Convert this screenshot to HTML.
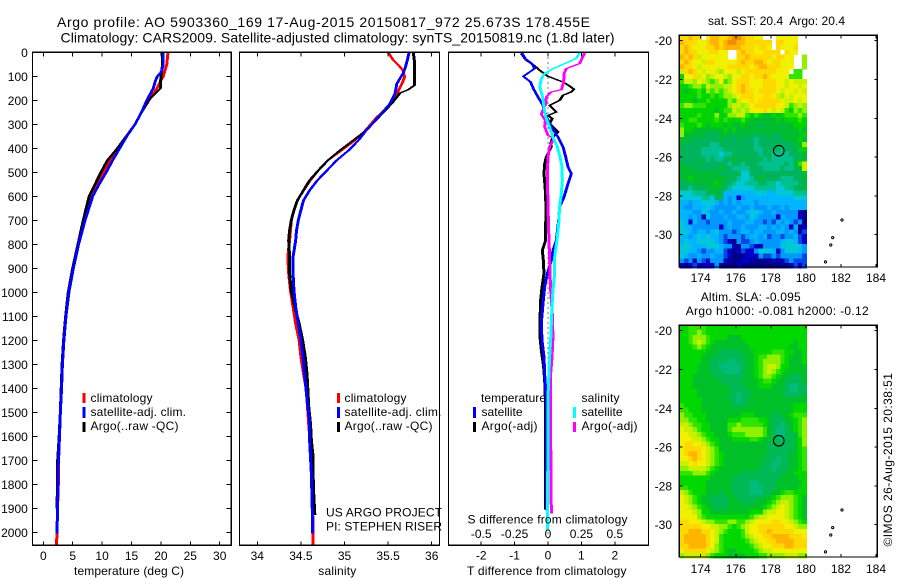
<!DOCTYPE html>
<html>
<head>
<meta charset="utf-8">
<title>Argo profile</title>
<style>
html,body{margin:0;padding:0;background:#fff}
svg{display:block}
text{font-family:"Liberation Sans",sans-serif;font-size:12px;fill:#000}
.ttl{font-size:14px}
</style>
</head>
<body>
<svg id="fig" xmlns="http://www.w3.org/2000/svg" width="900" height="580" viewBox="0 0 900 580">
<rect x="0" y="0" width="900" height="580" fill="#fff"/>
<text class="ttl" x="57" y="27" textLength="533">Argo profile: AO 5903360_169 17-Aug-2015 20150817_972 25.673S 178.455E</text>
<text class="ttl" x="60.5" y="42.5" textLength="554">Climatology: CARS2009. Satellite-adjusted climatology: synTS_20150819.nc (1.8d later)</text>
<g id="plots"></g>

<g>
<rect x="82.5" y="393" width="3" height="10" fill="#f00"/>
<rect x="82.5" y="407" width="3" height="11" fill="#00f"/>
<rect x="82.5" y="422" width="3" height="10" fill="#000"/>
<text x="90.5" y="402" textLength="62">climatology</text>
<text x="90.5" y="416" textLength="95.5">satellite-adj. clim.</text>
<text x="90.5" y="430" textLength="88">Argo(..raw -QC)</text>
</g>
<g>
<rect x="337" y="393" width="3" height="10" fill="#f00"/>
<rect x="337" y="407" width="3" height="11" fill="#00f"/>
<rect x="337" y="422" width="3" height="10" fill="#000"/>
<text x="344.5" y="402" textLength="62">climatology</text>
<text x="344.5" y="416" textLength="97">satellite-adj. clim.</text>
<text x="344.5" y="430" textLength="88">Argo(..raw -QC)</text>
<text x="326" y="516.5" textLength="116">US ARGO PROJECT</text>
<text x="326" y="530.5" textLength="116">PI: STEPHEN RISER</text>
</g>
<g>
<text x="481" y="402" textLength="65">temperature</text>
<rect x="473" y="407" width="3" height="11" fill="#00f"/>
<rect x="473" y="422" width="3" height="10" fill="#000"/>
<text x="481.5" y="416" textLength="41">satellite</text>
<text x="481.5" y="430" textLength="56">Argo(-adj)</text>
<text x="581.5" y="402" textLength="38">salinity</text>
<rect x="573" y="407" width="3" height="11" fill="#0ff"/>
<rect x="573" y="422" width="3" height="10" fill="#f0f"/>
<text x="581.5" y="416" textLength="41">satellite</text>
<text x="581.5" y="430" textLength="56">Argo(-adj)</text>
</g>

<text x="74" y="575" textLength="110">temperature (deg C)</text>
<text x="318.3" y="575" textLength="38">salinity</text>
<text x="467.5" y="523.5" textLength="160">S difference from climatology</text>
<text x="467" y="575" textLength="159.5">T difference from climatology</text>

<text x="708" y="25" textLength="137" xml:space="preserve">sat. SST: 20.4  Argo: 20.4</text>
<text x="700.7" y="301" textLength="100">Altim. SLA: -0.095</text>
<text x="685.7" y="315" textLength="183">Argo h1000: -0.081 h2000: -0.12</text>
<text transform="translate(892,546.5) rotate(-90)" x="0" y="0" textLength="173.5">©IMOS 26-Aug-2015 20:38:51</text>
</svg>

<script>
// ---------- temperature profile values (deg C) by depth (m) ----------
const tempClimDepth=[0,50,100,150,200,250,300,350,400,450,500,550,600,700,800,900,1000,1100,1200,1300,1400,1500,1600,1700,1800,1900,2000,2050];
const tempClimVal=[21.2,21.0,20.4,19.3,18.0,16.7,15.6,14.1,12.8,11.3,10.2,9.1,8.1,6.9,5.9,5.05,4.3,3.85,3.5,3.25,3.1,2.9,2.75,2.6,2.55,2.42,2.33,2.25];
const tempSatDepth=[0,50,80,100,120,150,200,250,300,350,400,450,500,550,600,700,800,900,1000,1100,1200,1300,1400,1500,1600,1700,1800,1900,2005];
const tempSatVal=[20.4,20.4,20.1,19.4,19.05,18.7,17.6,16.7,15.6,14.2,13,11.8,10.7,9.5,8.4,7.1,6.0,5.1,4.35,3.85,3.5,3.25,3.1,2.9,2.75,2.55,2.5,2.42,2.33];
const tempArgoDepth=[0,50,100,150,165,200,230,250,300,350,400,450,500,550,600,700,800,900,1000,1100,1200,1300,1400,1500,1600,1700,1800,1900];
const tempArgoVal=[20.3,20.3,20.0,19.9,19.3,17.9,17.2,16.7,15.6,14.1,12.6,10.9,9.8,8.8,7.8,6.8,5.9,5.0,4.25,3.8,3.45,3.2,3.05,2.9,2.7,2.45,2.45,2.3];
// ---------- salinity profile values by depth (m) ----------
const salClimDepth=[0,33,54,75,103,130,172,228,270,325,367,408,450,492,533,575,617,658,700,742,783,853,922,992,1061,1130,1200,1269,1339,1400,1500,1600,1700,1800,1900,2050];
const salClimVal=[35.50,35.56,35.62,35.67,35.69,35.66,35.6,35.5,35.37,35.24,35.12,34.97,34.81,34.70,34.61,34.53,34.46,34.42,34.39,34.38,34.37,34.35,34.36,34.38,34.41,34.44,34.48,34.5,34.53,34.56,34.58,34.6,34.615,34.63,34.635,34.64];
const salSatDepth=[3,33,61,89,131,172,214,269,325,367,408,450,492,533,575,617,658,700,742,783,853,922,992,1061,1130,1200,1269,1339,1408,1478,1547,1617,1686,1756,1825,1894,2005];
const salSatVal=[35.74,35.72,35.7,35.67,35.6,35.58,35.52,35.39,35.25,35.16,35.05,34.91,34.8,34.69,34.6,34.53,34.5,34.47,34.45,34.44,34.41,34.41,34.42,34.44,34.47,34.5,34.525,34.54,34.56,34.58,34.6,34.6,34.61,34.62,34.625,34.63,34.635];
const salArgoDepth=[3,33,89,138,156,169,214,256,325,367,408,450,492,533,575,617,658,700,742,783,853,922,992,1061,1130,1200,1269,1339,1408,1478,1547,1617,1686,1756,1825,1928];
const salArgoVal=[35.79,35.8,35.8,35.8,35.73,35.64,35.54,35.43,35.25,35.1,34.95,34.81,34.7,34.6,34.53,34.46,34.42,34.39,34.37,34.36,34.37,34.37,34.39,34.43,34.48,34.52,34.55,34.57,34.58,34.59,34.61,34.62,34.64,34.64,34.645,34.66];
// ---------- differences from climatology ----------
const diffTSatDepth=[3,26,47,68,100,124,151,186,221,269,311,353,394,436,478,506,547,603,644,700,783,825,867,922,978,1047,1130,1200,1269,1339,1408,1478,1617,1908];
const diffTSatVal=[-0.78,-0.68,-0.48,-0.4,-0.74,-0.52,-0.44,-0.3,-0.15,-0.05,0.1,0.3,0.45,0.53,0.6,0.7,0.6,0.48,0.35,0.32,0.25,0.15,0.1,-0.02,-0.1,-0.15,-0.2,-0.18,-0.12,-0.1,-0.07,-0.05,-0.04,-0.04];
const diffTArgoDepth=[6,33,54,75,100,124,138,154,165,179,200,221,235,249,263,276,297,318,332,353,381,394,436,464,506,575,644,728,783,825,867,922,978,1033,1117,1186,1242,1311,1367,1478,1756,1905];
const diffTArgoVal=[-0.8,-0.65,-0.42,-0.25,0,0.45,0.62,0.78,0.7,0.45,0.35,0.05,0.15,0.25,0,0.13,0.05,0.2,0.3,0.15,0.08,0.1,-0.05,-0.1,-0.12,-0.08,-0.06,-0.07,-0.07,-0.17,-0.14,-0.12,-0.18,-0.22,-0.24,-0.24,-0.2,-0.13,-0.1,-0.07,-0.07,-0.07];
const diffSSatDepth=[3,26,47,68,89,110,144,186,228,269,311,353,394,436,478,533,589,644,714,783,853,922,992,1061,1130,1200,1269,1339,1408,1478,1617,1756,1991];
const diffSSatVal=[0.237,0.21,0.125,0.037,-0.025,-0.05,-0.062,-0.04,-0.03,-0.017,0.012,0.037,0.07,0.09,0.105,0.107,0.1,0.087,0.08,0.067,0.05,0.05,0.037,0.03,0.025,0.02,0.012,0.007,0.002,0,0,-0.002,-0.005];
const diffSArgoDepth=[3,26,47,68,89,124,156,165,186,214,258,283,311,346,360,394,436,506,644,783,853,922,992,1089,1186,1269,1339,1478,1617,1922];
const diffSArgoVal=[0.274,0.254,0.237,0.137,0.12,0.117,0.1,0.025,-0.012,-0.017,-0.05,-0.02,-0.025,0,0.045,0.012,0,-0.005,0,0.007,0.0125,0.015,0.02,0.032,0.037,0.03,0.02,0.02,0.02,0.025];
// ---------- tick labels ----------
const depthTicks=[0,100,200,300,400,500,600,700,800,900,1000,1100,1200,1300,1400,1500,1600,1700,1800,1900,2000];
const tempTicks=[0,5,10,15,20,25,30];
const salTicks=[34,34.5,35,35.5,36];
const diffTTicks=[-2,-1,0,1,2];
const diffSTicks=[-0.5,-0.25,0,0.25,0.5];
const lonTicks=[174,176,178,180,182,184];
const latTicks=[-20,-22,-24,-26,-28,-30];
// ---------- float position and islands ----------
const floatLon=178.455;
const floatLat=-25.673;
const islandLons=[182.06,181.53,181.42,181.12];
const islandLats=[-29.24,-30.15,-30.53,-31.4];
// ---------- colour-class grids (0=lowest .. 16=highest, N=no data) ----------
const N=null;
const sstGrid=[
[14,14,15,14,14,N,13,15,15,14,14,15,16,16,15,14,14,13,13,N,N,N,13,13,13,13,13,N,N],
[15,14,14,14,13,13,14,15,15,14,15,16,16,15,15,14,14,14,14,14,14,N,14,14,13,13,13,N,N],
[14,15,14,13,13,13,14,14,15,14,15,15,15,15,14,14,14,13,14,14,13,N,14,13,13,13,14,N,N],
[14,15,14,14,13,13,13,14,14,13,13,N,N,14,15,14,14,13,13,14,14,14,14,N,14,13,13,N,N],
[15,14,15,14,12,13,13,13,13,13,13,N,N,14,14,15,14,14,14,14,14,13,14,14,13,13,N,N,11],
[14,15,14,13,13,12,14,14,13,13,13,13,13,14,15,14,14,15,15,14,13,14,14,13,13,13,N,N,11],
[15,14,14,13,12,13,13,13,13,13,13,14,14,14,14,14,13,14,15,15,14,14,14,13,13,13,N,N,11],
[12,14,15,14,13,12,13,13,12,11,13,13,13,12,13,14,14,14,14,14,14,14,13,13,13,N,10,10,N],
[9,13,13,14,12,13,11,12,13,13,12,11,13,13,14,14,13,14,14,15,14,13,13,13,13,10,10,10,N],
[10,12,12,11,13,12,11,10,11,13,10,11,13,14,14,14,13,13,13,14,14,14,13,13,12,13,12,12,12],
[9,9,10,11,11,10,12,11,11,11,12,12,13,14,15,14,13,13,13,14,14,14,13,13,12,13,13,12,13],
[9,8,9,9,10,9,11,10,11,10,11,12,13,14,15,14,14,13,14,14,14,14,13,12,13,13,12,13,12],
[9,9,9,9,10,9,9,10,9,10,11,11,12,13,14,14,14,13,13,14,14,13,12,11,13,12,13,13,13],
[9,9,9,8,9,9,10,9,9,9,9,11,10,12,13,13,14,13,14,14,14,14,14,13,12,12,13,12,13],
[10,11,11,10,10,10,9,9,9,9,9,11,12,12,11,12,13,14,14,14,14,14,13,13,12,10,11,12,11],
[9,9,9,9,9,9,9,9,8,9,10,10,12,11,12,11,13,13,13,14,13,12,13,12,10,9,11,10,11],
[9,9,9,9,10,9,9,9,11,9,9,11,11,12,12,10,9,10,9,8,8,9,8,9,10,10,10,11,10],
[9,9,10,10,9,9,9,9,10,9,10,9,9,9,10,9,8,8,8,8,8,8,9,8,9,9,9,10,9],
[10,9,9,9,10,9,8,9,9,9,8,9,8,8,9,8,8,8,7,8,8,8,8,8,8,8,9,9,9],
[11,9,9,8,8,8,8,8,8,8,9,8,9,8,8,8,8,8,8,8,8,8,8,8,8,8,8,9,8],
[11,8,8,8,8,8,7,7,7,8,8,8,7,7,8,8,7,7,8,7,8,7,7,8,8,8,8,8,9],
[8,8,8,7,7,7,7,7,7,8,7,7,7,8,7,7,7,6,7,7,7,7,7,7,8,8,8,9,8],
[8,7,7,7,7,7,7,6,6,7,7,7,7,7,7,7,7,6,7,7,7,7,7,7,7,7,8,8,11],
[7,7,7,7,7,6,6,6,6,6,7,7,7,7,7,7,7,6,6,7,7,7,7,6,7,7,7,9,9],
[7,7,7,7,7,6,6,6,6,5,6,6,7,7,7,7,7,7,6,7,7,6,6,6,6,7,7,7,8],
[7,7,7,7,7,7,6,7,6,6,7,7,8,7,8,7,7,7,7,6,7,6,6,6,6,6,7,8,8],
[8,7,7,7,8,7,7,7,7,7,7,6,7,7,6,7,7,7,6,6,6,6,6,6,7,6,8,10,12],
[8,8,8,7,7,7,7,7,7,8,7,7,6,6,6,6,7,7,7,6,6,6,6,7,6,6,7,8,12],
[8,8,8,8,8,8,8,8,8,7,7,7,7,7,5,5,7,7,7,7,7,7,7,7,7,7,7,7,8],
[8,8,9,8,8,8,8,8,8,8,8,7,7,6,5,5,6,7,8,7,7,7,7,6,6,6,7,7,8],
[7,7,7,8,8,8,8,8,9,8,7,7,6,5,5,6,6,6,7,7,6,6,5,6,6,6,6,7,7],
[7,7,6,7,7,7,8,8,8,8,7,6,5,5,5,5,5,6,6,6,6,6,5,5,6,6,7,7,8],
[5,5,5,6,6,6,7,7,8,7,4,4,4,4,4,4,4,5,5,5,4,4,5,5,5,5,6,6,6],
[5,5,5,5,5,6,6,5,7,7,4,3,4,1,3,4,4,4,4,4,4,4,4,4,4,4,5,5,5],
[4,4,3,4,4,5,5,5,4,3,4,3,4,3,4,4,4,3,4,4,4,4,4,4,4,4,4,4,4],
[4,3,3,4,4,4,5,4,3,3,3,3,3,4,3,3,4,3,3,3,4,3,3,4,3,4,4,4,4],
[4,4,4,3,3,5,4,3,3,4,3,3,4,3,3,4,5,5,4,3,3,4,3,3,3,3,3,1,0],
[4,4,3,4,3,1,5,3,3,3,4,3,3,4,4,3,5,4,3,3,3,3,1,4,3,3,3,1,0],
[5,4,1,4,3,3,2,3,3,3,3,4,3,3,3,4,4,3,3,2,3,2,4,3,4,3,2,3,0],
[5,4,4,3,3,3,3,3,3,1,3,4,3,3,4,3,3,3,4,4,3,4,3,4,3,1,4,0,1],
[5,5,4,3,4,4,3,4,5,3,3,3,2,3,4,4,3,4,4,3,3,3,4,4,3,4,3,0,2],
[4,4,3,4,5,4,5,4,4,3,2,3,3,3,2,3,4,4,3,4,2,3,3,2,3,3,4,2,1],
[4,5,4,4,5,5,5,5,4,3,2,1,0,3,2,2,3,4,3,3,3,3,3,4,5,5,4,2,1],
[5,5,5,4,4,4,5,5,5,4,3,3,1,0,3,3,2,1,1,3,3,3,3,5,5,5,5,5,3],
[5,5,4,4,3,2,3,3,4,4,2,1,0,1,2,1,1,3,5,5,5,4,1,3,5,5,5,4,3],
[5,4,3,3,4,3,3,4,3,3,2,1,0,0,0,1,1,1,3,2,2,3,2,3,3,3,3,3,2],
[3,2,3,1,3,2,1,3,3,3,1,0,0,0,1,1,0,0,0,0,0,1,0,1,2,3,2,2,2],
[1,0,1,2,1,1,1,1,3,0,0,0,0,1,0,0,0,0,0,0,0,0,0,0,0,1,2,1,2]
];
const slaGrid=[
[9,9,10,10,10,10,9,9,9,9,9,9,9,9,9,9,9,9,9,9,9,9,9,9,9,9,9,9,9],
[9,9,10,10,11,10,9,9,9,9,9,9,9,9,9,9,9,9,9,9,9,9,9,9,9,9,9,9,9],
[9,9,10,11,11,11,10,9,9,9,9,8,8,8,9,9,9,9,9,9,9,9,9,9,9,9,9,9,9],
[9,9,10,11,12,11,10,9,8,8,8,8,8,8,8,9,9,9,9,9,9,9,9,9,9,9,8,9,9],
[9,9,9,10,11,10,9,8,8,8,8,8,8,8,8,8,9,9,9,9,9,9,9,9,9,8,8,9,9],
[9,9,9,9,9,9,8,8,8,7,7,7,7,7,8,8,8,9,9,9,9,10,10,10,9,9,8,8,9],
[9,9,9,9,9,8,8,8,7,7,7,7,7,7,7,8,8,9,10,10,11,11,11,10,9,8,8,8,9],
[9,9,9,9,9,8,8,7,7,7,7,6,6,7,7,8,8,9,10,11,11,11,11,10,9,8,8,8,9],
[9,9,9,9,8,8,8,7,7,6,6,6,6,6,7,8,8,9,10,11,12,12,11,9,9,8,8,8,8],
[9,9,9,9,8,8,8,7,7,7,6,6,6,6,7,8,8,9,10,11,12,11,10,9,8,8,8,8,8],
[9,9,9,8,8,8,8,8,7,7,7,7,7,7,7,8,8,9,10,11,11,10,9,8,8,7,7,7,8],
[9,9,9,8,8,8,8,8,8,7,7,7,7,7,8,8,8,8,9,10,10,9,8,8,7,7,7,7,8],
[9,9,9,8,8,8,8,8,8,8,8,7,7,7,7,8,8,8,9,9,9,8,8,8,7,6,6,7,7],
[9,9,9,9,8,8,8,8,8,8,8,8,7,7,7,7,8,8,8,8,8,8,8,7,7,6,6,7,7],
[9,9,9,9,8,8,8,8,8,8,8,7,7,6,7,7,8,8,8,8,8,8,8,8,7,7,7,7,8],
[9,9,9,9,9,8,8,8,8,8,8,8,7,6,7,7,8,8,8,8,8,8,8,8,8,8,8,8,8],
[10,9,9,9,9,8,8,8,8,8,8,8,7,7,7,8,8,8,8,8,8,8,8,8,8,8,9,9,9],
[10,10,9,9,9,8,8,8,8,8,8,8,8,8,8,8,8,8,8,8,8,8,8,8,8,8,9,9,9],
[11,10,10,9,9,9,8,8,8,8,8,8,8,8,9,9,9,8,8,8,8,7,7,8,8,9,10,10,10],
[11,11,10,10,9,9,8,8,8,8,8,9,9,9,10,10,10,10,9,9,8,7,7,7,8,8,9,10,11],
[12,12,11,10,10,9,9,8,8,8,8,10,10,11,10,10,10,10,10,9,8,7,7,6,7,8,9,10,11],
[13,12,12,11,10,9,9,8,8,8,8,10,11,11,11,11,11,11,11,10,8,7,6,6,7,8,9,10,11],
[13,13,12,12,11,10,9,9,8,8,8,9,10,10,10,11,11,11,11,10,8,7,6,6,7,7,8,10,11],
[13,13,13,12,12,11,10,9,9,8,8,8,9,9,9,9,10,10,9,8,8,7,7,6,7,7,8,9,11],
[13,14,14,13,13,12,11,10,9,8,8,8,8,8,8,8,8,8,8,8,7,7,7,7,7,7,8,9,11],
[13,14,14,14,14,13,12,11,10,8,8,8,8,8,8,8,8,8,8,8,7,7,7,7,7,7,8,9,10],
[13,14,15,15,14,13,12,11,10,9,8,8,8,8,8,8,8,8,8,8,7,7,7,7,7,8,8,9,10],
[13,13,14,15,14,13,12,11,10,9,8,8,8,8,8,8,8,8,8,7,7,7,6,7,7,8,8,9,10],
[12,12,13,14,13,13,12,11,10,9,8,8,8,8,8,8,8,8,8,7,7,6,6,7,7,8,8,9,10],
[11,11,12,12,12,12,11,10,9,8,8,8,8,8,8,8,8,8,7,7,7,6,7,7,7,8,8,9,10],
[10,10,10,11,11,11,10,9,8,8,8,8,8,8,7,7,7,7,7,7,7,7,7,7,8,8,9,9,9],
[9,9,9,9,9,9,9,8,8,8,8,8,7,7,7,7,7,7,7,7,7,7,7,8,8,8,8,9,9],
[9,9,9,9,9,9,8,8,8,8,8,8,7,7,7,7,6,6,7,7,7,7,8,8,8,8,8,8,9],
[10,10,9,9,9,9,8,8,8,8,8,8,7,7,7,7,6,6,6,7,7,7,8,8,8,8,8,9,9],
[12,11,10,9,9,9,8,8,8,7,8,8,7,7,7,7,6,6,6,7,7,8,8,9,10,10,9,9,9],
[13,12,11,10,9,8,8,7,7,7,7,8,8,7,7,7,7,7,7,8,8,9,10,11,11,11,10,9,8],
[13,12,11,10,9,8,8,7,7,7,7,8,8,8,7,7,7,8,8,8,9,10,11,12,12,11,10,9,8],
[13,13,12,11,10,9,8,8,7,7,7,8,8,8,8,8,8,8,8,9,10,11,12,13,12,11,10,9,8],
[13,13,13,12,11,9,9,8,8,8,8,8,8,8,8,8,9,9,9,11,12,12,13,13,12,11,10,9,8],
[13,13,13,13,11,10,9,9,9,9,9,9,9,9,9,9,10,11,12,12,13,13,13,13,12,11,10,9,8],
[14,14,13,13,13,12,11,11,10,10,10,11,11,10,10,11,12,13,13,13,13,14,14,13,13,12,11,10,9],
[14,14,14,14,14,13,13,12,12,11,11,10,9,10,11,12,13,13,14,14,14,14,14,14,13,13,12,11,11],
[14,14,15,15,15,14,14,13,12,11,10,9,9,9,10,12,13,13,14,14,15,14,14,14,14,14,13,13,13],
[14,15,15,15,15,15,14,13,12,10,9,9,9,9,10,11,12,13,13,14,14,15,15,15,15,14,14,14,13],
[14,15,15,15,15,15,14,13,12,10,9,9,9,9,9,10,11,12,13,13,14,14,15,15,15,15,14,14,14],
[14,14,15,15,15,15,14,13,11,10,9,9,9,9,9,9,10,11,12,13,13,14,14,14,15,15,14,14,14],
[13,14,14,14,14,14,13,12,11,10,9,8,8,9,9,9,9,10,11,12,12,13,13,13,13,13,13,13,13],
[11,12,12,12,12,12,11,10,9,9,9,8,8,8,8,9,9,9,10,10,11,11,11,11,12,12,12,11,11]
];
const sstColors=['#00008c','#0000c8','#0048e8','#0098ff','#00b4ff','#00c8d8','#00c090','#00b45c','#00bc30','#00d400','#30e400','#90f000','#c8f000','#f0f000','#ffd800','#ffb400','#f09000'];
const slaColors=['#00008c','#0000c8','#0048e8','#0098ff','#00b4ff','#00c8d8','#00bc78','#00b854','#00c028','#00d800','#30e400','#90f000','#c8f000','#f0f000','#ffd800','#ffb400','#f09000'];

// ---------- axis functions ----------
const yDepth=d=>52.3+0.24*d;
const xTemp=v=>43.3+5.88*v;
const xSal=v=>257.3+87.2*(v-34);
const xDiffT=v=>548+33.4*v;
const xDiffS=v=>548+133.6*v;
const xLon=v=>700.7+17.53*(v-174);
const sstLatY=v=>40.7+19.4*(-20-v);
const slaLatY=v=>330.7+19.4*(-20-v);

const SVGNS='http://www.w3.org/2000/svg';
const plots=document.getElementById('plots');
function mk(tag,parent,attrs){
  const el=document.createElementNS(SVGNS,tag);
  for(const k in attrs){el.setAttribute(k,attrs[k]);}
  parent.appendChild(el);
  return el;
}
function group(name){
  const g=mk('g',plots,{});
  
  
  return g;
}
function line(parent,name,x1,y1,x2,y2,w){
  const el=mk('line',parent,{x1:x1,y1:y1,x2:x2,y2:y2,stroke:'#000','stroke-width':w||1,'shape-rendering':'crispEdges'});
  
  
  return el;
}
function label(parent,name,x,y,str,anchor){
  const el=mk('text',parent,{x:x,y:y,'text-anchor':anchor||'middle'});
  el.textContent=str;
  
  
  return el;
}
function frame(parent,name,x,y,w,h){
  const el=mk('rect',parent,{x:x,y:y,width:w,height:h,fill:'none',stroke:'#000','stroke-width':1.2,'shape-rendering':'crispEdges'});
  
  
  return el;
}
// Profiles use a wide, flat pen: near-vertical runs are about 3px thick, near-horizontal runs about 1px.
const PEN_X=2.6;
function series(parent,name,depths,vals,xf,color,w){
  let pts='';
  for(let i=0;i<depths.length;i++){pts+=(xf(vals[i])/PEN_X).toFixed(3)+','+yDepth(depths[i]).toFixed(2)+' ';}
  const el=mk('polyline',parent,{points:pts,fill:'none',stroke:color,'stroke-width':w||1.15,'stroke-linejoin':'round',transform:'scale('+PEN_X+',1)','shape-rendering':'crispEdges'});
  
  
  return el;
}
const TOP=52.3,BOT=545.3;

// ---------- temperature panel ----------
const g1=group('temperature-panel');
series(g1,'temperature-climatology-line',tempClimDepth,tempClimVal,xTemp,'#f00');
series(g1,'temperature-argo-line',tempArgoDepth,tempArgoVal,xTemp,'#000');
series(g1,'temperature-satellite-line',tempSatDepth,tempSatVal,xTemp,'#00f');
frame(g1,'temperature-plot-frame',32.4,TOP,198.9,BOT-TOP);
tempTicks.forEach(v=>{
  const x=xTemp(v);
  line(g1,'temperature-x-tick',x,TOP,x,TOP+4);
  line(g1,'temperature-x-tick',x,BOT,x,BOT-4);
  label(g1,'temperature-x-label',x,560,String(v));
});
depthTicks.forEach(v=>{
  const y=yDepth(v);
  line(g1,'depth-tick',32.4,y,37.4,y);
  line(g1,'depth-tick',231.3,y,226.3,y);
  label(g1,'depth-label',27.8,y+4.5,String(v),'end');
});

// ---------- salinity panel ----------
const g2=group('salinity-panel');
series(g2,'salinity-climatology-line',salClimDepth,salClimVal,xSal,'#f00');
series(g2,'salinity-argo-line',salArgoDepth,salArgoVal,xSal,'#000');
series(g2,'salinity-satellite-line',salSatDepth,salSatVal,xSal,'#00f');
frame(g2,'salinity-plot-frame',239.5,TOP,200,BOT-TOP);
salTicks.forEach(v=>{
  const x=xSal(v);
  line(g2,'salinity-x-tick',x,TOP,x,TOP+4);
  line(g2,'salinity-x-tick',x,BOT,x,BOT-4);
  label(g2,'salinity-x-label',x,560,String(v));
});

// ---------- difference panel ----------
const g3=group('difference-panel');
const zero=mk('line',g3,{x1:xDiffT(0),y1:TOP,x2:xDiffT(0),y2:BOT,stroke:'#000','stroke-width':1,'stroke-dasharray':'1 4','shape-rendering':'crispEdges'});


series(g3,'t-argo-difference-line',diffTArgoDepth,diffTArgoVal,xDiffT,'#000');
series(g3,'t-satellite-difference-line',diffTSatDepth,diffTSatVal,xDiffT,'#00f');
series(g3,'s-argo-difference-line',diffSArgoDepth,diffSArgoVal,xDiffS,'#f0f');
series(g3,'s-satellite-difference-line',diffSSatDepth,diffSSatVal,xDiffS,'#0ff');
frame(g3,'difference-plot-frame',448.6,TOP,199.9,BOT-TOP);
diffTTicks.forEach(v=>{
  const x=xDiffT(v);
  line(g3,'t-difference-tick',x,TOP,x,TOP+4);
  line(g3,'t-difference-tick',x,BOT,x,BOT-4);
  label(g3,'t-difference-label',x,559.5,String(v));
});
diffSTicks.forEach(v=>{
  label(g3,'s-difference-label',xDiffS(v),538,String(v));
});

// ---------- map panels ----------
function drawMap(name,grid,colors,latY,top,bot,titleBase){
  const g=group(name);
  const lon0=172.79,lat0=-19.72,step=0.25;
  grid.forEach((row,r)=>{
    row.forEach((val,c)=>{
      if(val===null||val===undefined)return;
      const x=xLon(lon0+c*step),y=latY(lat0-r*step);
      const w=xLon(lon0+(c+1)*step)-x,h=latY(lat0-(r+1)*step)-y;
      const cell=mk('rect',g,{x:x.toFixed(2),y:y.toFixed(2),width:(w+0.4).toFixed(2),height:(h+0.4).toFixed(2),fill:colors[Math.max(0,Math.min(colors.length-1,Math.round(val)))],'shape-rendering':'crispEdges'});
      
      
    });
  });
  islandLons.forEach((lon,i)=>{
    const isl=mk('circle',g,{cx:xLon(lon),cy:latY(islandLats[i]),r:1.1,fill:'none',stroke:'#000','stroke-width':1});
    
    
  });
  const marker=mk('circle',g,{cx:xLon(floatLon),cy:latY(floatLat),r:5.3,fill:'none',stroke:'#000','stroke-width':1.1});
  
  
  frame(g,'map-frame',679.3,top,198,bot-top);
  lonTicks.forEach(v=>{
    const x=xLon(v);
    line(g,'longitude-tick',x,top,x,top+3);
    line(g,'longitude-tick',x,bot,x,bot-3);
    label(g,'longitude-label',x,titleBase,String(v));
  });
  latTicks.forEach(v=>{
    const y=latY(v);
    line(g,'latitude-tick',679.3,y,682.3,y);
    line(g,'latitude-tick',877.3,y,874.3,y);
    label(g,'latitude-label',672,y+4.5,String(v),'end');
  });
}
drawMap('sst-map',sstGrid,sstColors,sstLatY,35.3,267,282);
drawMap('sla-map',slaGrid,slaColors,slaLatY,325.3,557,573);
</script>
</body>
</html>
